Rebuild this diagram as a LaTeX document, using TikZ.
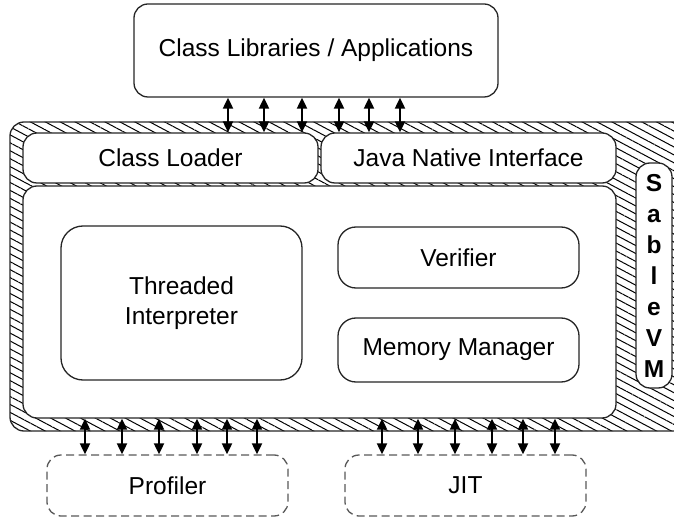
\documentclass[tikz,border=0pt]{standalone}
\usepackage{fontspec}
\setmainfont{Liberation Sans}
\usetikzlibrary{fit,arrows.meta,positioning,patterns.meta}

\begin{document}
\begin{tikzpicture}[x=1pt,y=-1pt,
		box/.style={draw=black!85, line width=1.3pt, fill=white, inner sep=0pt, rounded corners=14pt},
		plug/.style={box, draw=black!65, dash pattern=on 8pt off 4.5pt},
		link/.style={line width=2pt, {Triangle[length=11pt,width=10pt]}-{Triangle[length=11pt,width=10pt]}},
		font=\fontsize{24.5}{30}\selectfont]
		\useasboundingbox (0,0) rectangle (674,518);
		\clip (0,0) rectangle (674,518);
		% hatched shell of the VM
		\node[fit={(10,122) (720,431)}, draw=black!85, line width=1.3pt, inner sep=0pt, rounded corners=14pt,
			pattern={Lines[angle=-28,distance=7pt,line width=1pt]}] (vm) {};
		\node[box, fit={(134,4) (498,97)}] (libs) {};
		\node[box, fit={(23,133) (318,183)}] (loader) {};
		\node[box, fit={(321,133) (616,183)}] (jni) {};
		\node[box, fit={(23,186) (616,418)}] (core) {};
		\node[box, fit={(61,226) (302,380)}, rounded corners=22pt] (interp) {};
		\node[box, fit={(338,227) (579,288)}, rounded corners=18pt] (verifier) {};
		\node[box, fit={(338,318) (579,382)}, rounded corners=18pt] (memory) {};
		\node[box, fit={(636,163) (672,388)}] (sable) {};
		\node[plug, fit={(47,455) (288,516)}] (profiler) {};
		\node[plug, fit={(345,455) (586,516)}] (jit) {};
		% labels
		\node at (libs) {Class Libraries / Applications};
		\node at (loader) {Class Loader};
		\node at (jni) {Java Native Interface};
		\node[align=center] at (interp) {Threaded\\Interpreter};
		\node at (verifier) {Verifier};
		\node at (memory) {Memory Manager};
		\node[align=center, font=\fontsize{24.5}{31}\selectfont\bfseries] at (sable) {S\\a\\b\\l\\e\\V\\M};
		\node at (profiler) {Profiler};
		\node at (jit) {JIT};
		% connectors
		\foreach \x in {228,264,302,339,369,400}
			\draw[link] (\x,0 |- libs.south) -- (\x,0 |- loader.north);
		\foreach \x in {85,122,159,197,227,257}
			\draw[link] (\x,0 |- core.south) -- (\x,0 |- profiler.north);
		\foreach \x in {382,418,455,492,523,555}
			\draw[link] (\x,0 |- core.south) -- (\x,0 |- jit.north);
	\end{tikzpicture}
\end{document}
